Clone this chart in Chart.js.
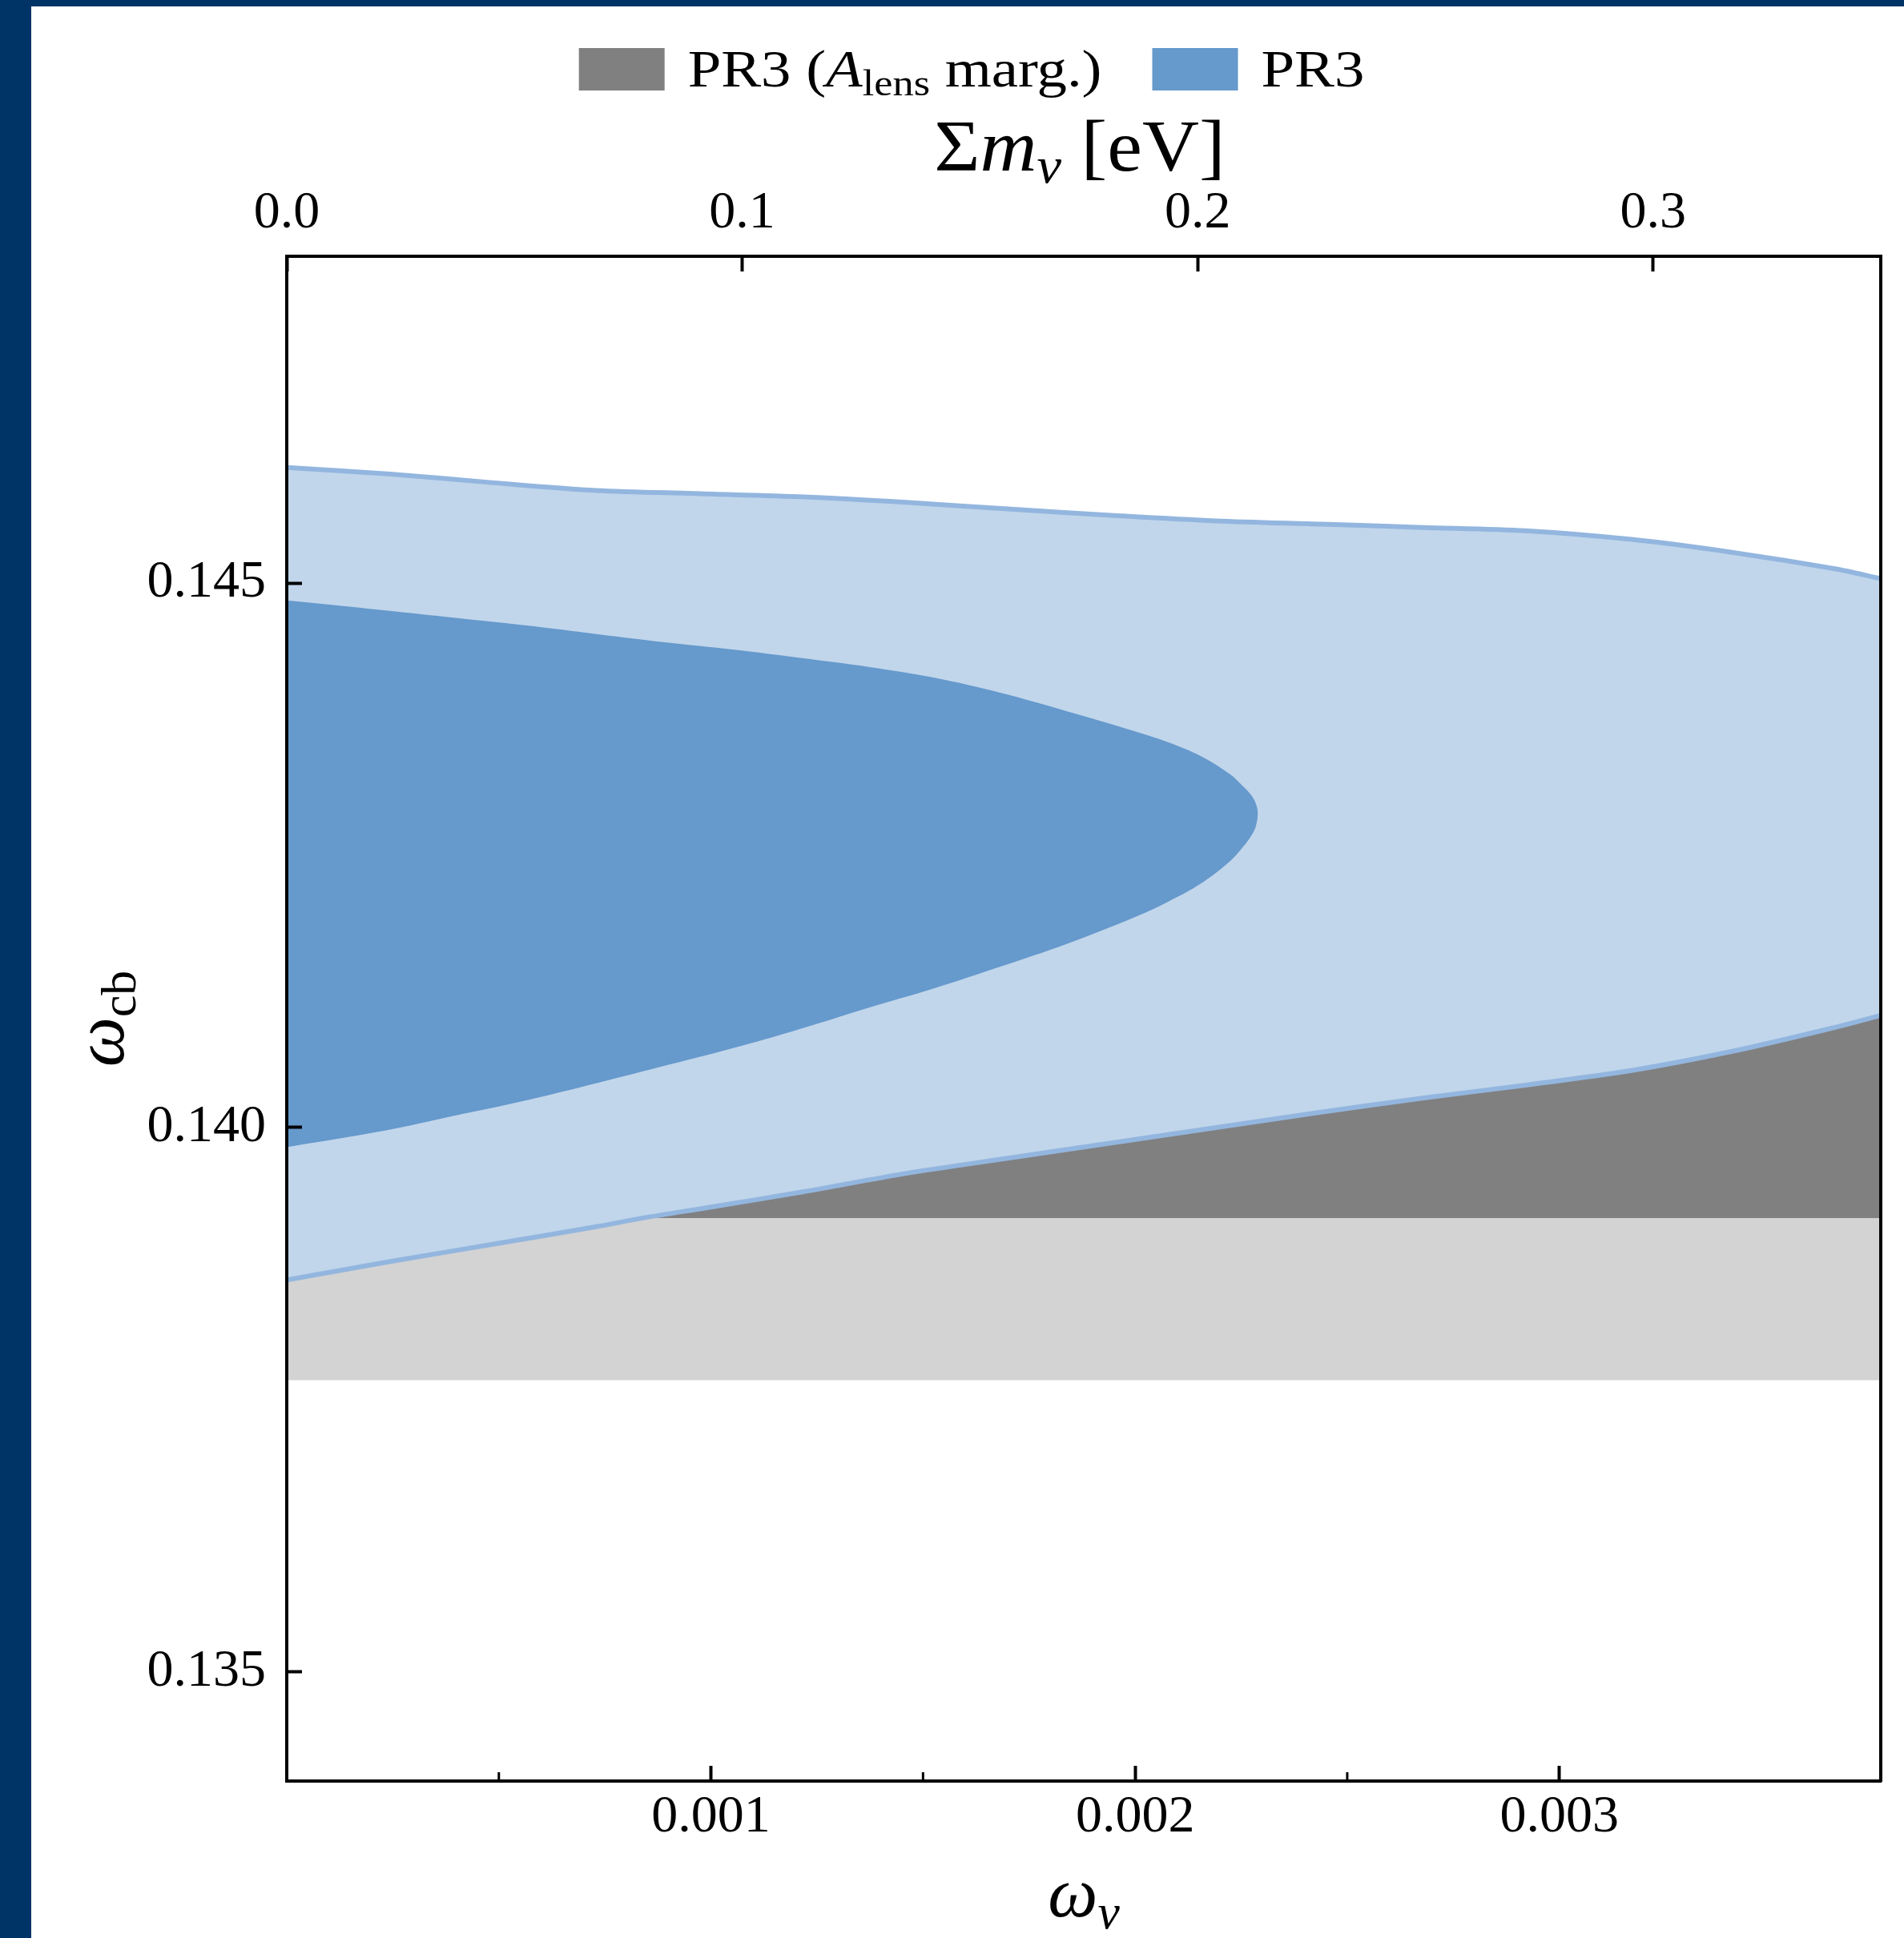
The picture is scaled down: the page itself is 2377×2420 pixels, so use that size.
<!DOCTYPE html>
<html><head><meta charset="utf-8">
<script src="https://cdn.jsdelivr.net/npm/chart.js@4.4.1/dist/chart.umd.min.js"></script>
<style>
html,body{margin:0;padding:0;background:#003366;}
body{width:2377px;height:2420px;position:relative;overflow:hidden;}
#wrap{position:absolute;left:39px;top:8px;width:2338px;height:2412px;background:#ffffff;}
canvas{display:block;}
</style></head><body><div id="wrap"><canvas id="c"></canvas></div>
<script>
// ---------------- data ----------------
const EV_PER_OMEGA = 93.14;          // Sum m_nu [eV] = 93.14 * omega_nu
const SUM_MNU_MAX = 0.35;
const X_MIN = 0, X_MAX = SUM_MNU_MAX / EV_PER_OMEGA;
const Y_MIN = 0.134, Y_MAX = 0.148;

const bottomTicks = [0.001, 0.002, 0.003];
const bottomMinorTicks = [0.0005, 0.0015, 0.0025];
const topTicks = [0.0, 0.1, 0.2, 0.3];
const leftTicks = [0.135, 0.140, 0.145];

const seriesNames = ['PR3 (A_lens marg.)', 'PR3'];

// PR3: 2-sigma contour boundaries (omega_nu, omega_cb)
const pr3_2s_upper_x = [0, 0.000244, 0.000488, 0.00073, 0.000975, 0.00122, 0.00146, 0.0017, 0.00195, 0.00219, 0.00244, 0.00268, 0.00292, 0.00317, 0.00341, 0.00365, 0.003758];
const pr3_2s_upper_y = [0.14606, 0.14600, 0.14592, 0.14585, 0.14582, 0.14579, 0.14574, 0.14568, 0.14562, 0.14557, 0.14554, 0.14551, 0.14548, 0.14540, 0.14528, 0.14513, 0.14504];
const pr3_2s_lower_x = [0, 0.000244, 0.000488, 0.00073, 0.00084, 0.001, 0.001217, 0.001461, 0.001703, 0.001947, 0.002191, 0.002435, 0.002677, 0.002921, 0.003164, 0.003408, 0.00365, 0.003758];
const pr3_2s_lower_y = [0.13860, 0.13877, 0.13893, 0.13909, 0.13917, 0.13927, 0.13941, 0.13958, 0.13972, 0.13986, 0.14000, 0.14014, 0.14027, 0.14039, 0.14052, 0.14070, 0.14092, 0.14103];

// PR3: 1-sigma contour boundaries
const pr3_1s_upper_x = [0, 0.000229, 0.000397, 0.000565, 0.000733, 0.000904, 0.001072, 0.001214, 0.001371, 0.001527, 0.001684, 0.001841, 0.001998, 0.002076, 0.002155, 0.002225, 0.002255, 0.002272, 0.002284, 0.002289];
const pr3_1s_upper_y = [0.14484, 0.14475, 0.14468, 0.14461, 0.14453, 0.14445, 0.14438, 0.14431, 0.14423, 0.14413, 0.14399, 0.14382, 0.14364, 0.14354, 0.14341, 0.14324, 0.14313, 0.14306, 0.14298, 0.14289];
const pr3_1s_lower_x = [0, 0.000229, 0.000397, 0.000565, 0.000733, 0.000904, 0.001072, 0.001214, 0.001371, 0.001527, 0.001684, 0.001841, 0.001998, 0.002076, 0.002155, 0.002225, 0.002255, 0.002272, 0.002284, 0.002289];
const pr3_1s_lower_y = [0.13982, 0.13997, 0.14011, 0.14025, 0.14041, 0.14058, 0.14075, 0.14091, 0.14110, 0.14128, 0.14148, 0.14169, 0.14193, 0.14207, 0.14224, 0.14245, 0.14258, 0.14267, 0.14276, 0.14289];

// PR3 (A_lens marg.): visible lower edges of the 1- and 2-sigma regions (upper parts lie under PR3)
const alens_1s_bottom = 0.13917;
const alens_2s_bottom = 0.13768;
const alens_hidden_top = 0.1420;

// ---------------- helpers ----------------
const COL = {
  gray2: '#d3d3d3', gray1: '#808080',
  blue2: '#c1d6eb', blue2edge: '#93b6df', blue1: '#6699cc'
};
const FONT = '"Liberation Serif"';
const pts = (xs, ys) => xs.map((x, i) => ({x: x, y: ys[i]}));
function bandPolygon(upper, lower) {
  const l = lower.slice().reverse();
  return [...upper, upper[upper.length - 1], l[0], ...l];
}
function closedPolygon(upper, lower) {
  const l = lower.slice().reverse();
  return [...upper, ...l.slice(1)];
}
function rectPolygon(bottom, top) {
  return [{x: X_MIN, y: bottom}, {x: X_MAX, y: bottom}, {x: X_MAX, y: top}, {x: X_MIN, y: top}];
}

const up2 = pts(pr3_2s_upper_x, pr3_2s_upper_y);
const lo2 = pts(pr3_2s_lower_x, pr3_2s_lower_y);
const up1 = pts(pr3_1s_upper_x, pr3_1s_upper_y);
const lo1 = pts(pr3_1s_lower_x, pr3_1s_lower_y);

const common = {showLine: true, pointRadius: 0, pointHoverRadius: 0, clip: 0};

const datasets = [
  Object.assign({}, common, {label: seriesNames[0] + ' 2σ', data: rectPolygon(alens_2s_bottom, alens_hidden_top),
    fill: 'shape', backgroundColor: COL.gray2, borderColor: COL.gray2, borderWidth: 0, tension: 0, order: 6}),
  Object.assign({}, common, {label: seriesNames[0] + ' 1σ', data: rectPolygon(alens_1s_bottom, alens_hidden_top),
    fill: 'shape', backgroundColor: COL.gray1, borderColor: COL.gray1, borderWidth: 0, tension: 0, order: 5}),
  Object.assign({}, common, {label: seriesNames[1] + ' 2σ', data: bandPolygon(up2, lo2),
    fill: 'shape', backgroundColor: COL.blue2, borderColor: COL.blue2, borderWidth: 0, tension: 0.3, order: 4}),
  Object.assign({}, common, {label: seriesNames[1] + ' 2σ upper edge', data: up2,
    fill: false, borderColor: COL.blue2edge, backgroundColor: COL.blue2edge, borderWidth: 6, tension: 0.3, order: 3}),
  Object.assign({}, common, {label: seriesNames[1] + ' 2σ lower edge', data: lo2,
    fill: false, borderColor: COL.blue2edge, backgroundColor: COL.blue2edge, borderWidth: 6, tension: 0.3, order: 3}),
  Object.assign({}, common, {label: seriesNames[1] + ' 1σ', data: closedPolygon(up1, lo1),
    fill: 'shape', backgroundColor: COL.blue1, borderColor: COL.blue1, borderWidth: 0, tension: 0.35, order: 2})
];

// ---------------- rich text ----------------
const topTitle = [['Σ', 'n'], ['m', 'i'], ['ν', 'subi'], [' [eV]', 'n']];
const bottomTitle = [['ω', 'i'], ['ν', 'subi']];
const leftTitle = [['ω', 'i'], ['cb', 'sub']];
const legendRich = [
  [['PR3 (', 'n'], ['A', 'i'], ['lens', 'sub'], [' marg.)', 'n']],
  [['PR3', 'n']]
];
const legendColors = [COL.gray1, COL.blue1];

function segFont(style, size) {
  const sub = style.indexOf('sub') === 0;
  const it = style === 'i' || style === 'subi';
  const s = sub ? size * 0.7 : size;
  return {font: (it ? 'italic ' : '') + s + 'px ' + FONT, dy: sub ? size * 0.17 : 0};
}
function richWidth(ctx, segs, size, sx) {
  let w = 0;
  for (const [t, st] of segs) { ctx.font = segFont(st, size).font; w += ctx.measureText(t).width; }
  return w * (sx || 1);
}
function drawRich(ctx, segs, x, y, size, align, sx) {
  sx = sx || 1;
  const w = richWidth(ctx, segs, size, sx);
  const start = align === 'center' ? x - w / 2 : x;
  ctx.save();
  ctx.translate(start, y);
  ctx.scale(sx, 1);
  ctx.textAlign = 'left';
  ctx.textBaseline = 'alphabetic';
  let cx = 0;
  for (const [t, st] of segs) {
    const f = segFont(st, size);
    ctx.font = f.font;
    ctx.fillText(t, cx, f.dy);
    cx += ctx.measureText(t).width;
  }
  ctx.restore();
  return w;
}

const decorPlugin = {
  id: 'decor',
  afterDraw(chart) {
    const ctx = chart.ctx, a = chart.chartArea;
    ctx.save();
    ctx.fillStyle = '#000';
    // axis titles
    drawRich(ctx, topTitle, (a.left + a.right) / 2 - 5, a.top - 107, 91, 'center', 1.08);
    drawRich(ctx, bottomTitle, (a.left + a.right) / 2, a.bottom + 169, 88, 'center', 1);
    ctx.save();
    ctx.translate(a.left - 204, (a.top + a.bottom) / 2);
    ctx.rotate(-Math.PI / 2);
    drawRich(ctx, leftTitle, 0, 0, 88, 'center', 1);
    ctx.restore();
    // minor ticks on bottom axis (inward)
    const xs = chart.scales.x;
    ctx.strokeStyle = '#000';
    ctx.lineWidth = 3;
    for (const v of bottomMinorTicks) {
      const px = xs.getPixelForValue(v);
      ctx.beginPath(); ctx.moveTo(px, a.bottom); ctx.lineTo(px, a.bottom - 11); ctx.stroke();
    }
    // legend
    const size = 65, sx = 1.15, boxW = 107, boxH = 53, boxGap = 29, itemGap = 63, boxTop = 52, base = 100, centerX = 1174;
    const widths = legendRich.map(s => richWidth(ctx, s, size, sx));
    let total = itemGap * (legendRich.length - 1);
    widths.forEach(w => { total += boxW + boxGap + w; });
    let x = centerX - total / 2;
    legendRich.forEach((segs, i) => {
      ctx.fillStyle = legendColors[i];
      ctx.fillRect(x, boxTop, boxW, boxH);
      x += boxW + boxGap;
      ctx.fillStyle = '#000';
      drawRich(ctx, segs, x, base, size, 'left', sx);
      x += widths[i] + itemGap;
    });
    ctx.restore();
  }
};

const tickFont = {family: FONT, size: 66};
const axisCommon = (extra) => Object.assign({
  type: 'linear',
  grid: {drawOnChartArea: false, drawTicks: true, tickLength: -19, tickWidth: 4, tickColor: '#000', z: 1},
  border: {display: true, color: '#000', width: 4, z: 1}
}, extra);

new Chart(document.getElementById('c'), {
  type: 'scatter',
  data: {datasets: datasets},
  plugins: [decorPlugin],
  options: {
    responsive: true,
    maintainAspectRatio: false,
    animation: false,
    events: [],
    layout: {padding: 0},
    plugins: {legend: {display: false}, tooltip: {enabled: false}},
    scales: {
      x: axisCommon({
        position: 'bottom', min: X_MIN, max: X_MAX,
        afterBuildTicks: s => { s.ticks = bottomTicks.map(v => ({value: v})); },
        afterFit: s => { s.height = 196; },
        ticks: {autoSkip: false, maxRotation: 0, minRotation: 0, padding: 25, color: '#000', font: tickFont,
          callback: v => Number(v).toFixed(3)}
      }),
      xTop: axisCommon({
        position: 'top', axis: 'x', min: 0, max: SUM_MNU_MAX,
        afterBuildTicks: s => { s.ticks = topTicks.map(v => ({value: v})); },
        afterFit: s => { s.height = 312; },
        ticks: {autoSkip: false, maxRotation: 0, minRotation: 0, padding: 33, color: '#000', font: tickFont,
          callback: v => Number(v).toFixed(1)}
      }),
      y: axisCommon({
        position: 'left', min: Y_MIN, max: Y_MAX,
        afterBuildTicks: s => { s.ticks = leftTicks.map(v => ({value: v})); },
        afterFit: s => { s.width = 319; },
        ticks: {autoSkip: false, padding: 45, color: '#000', font: tickFont,
          callback: v => Number(v).toFixed(3)}
      }),
      yRight: {
        type: 'linear', position: 'right', axis: 'y', min: Y_MIN, max: Y_MAX,
        ticks: {display: false},
        grid: {drawOnChartArea: false, drawTicks: false},
        border: {display: true, color: '#000', width: 4, z: 1},
        afterFit: s => { s.width = 29; }
      }
    }
  }
});
</script></body></html>
